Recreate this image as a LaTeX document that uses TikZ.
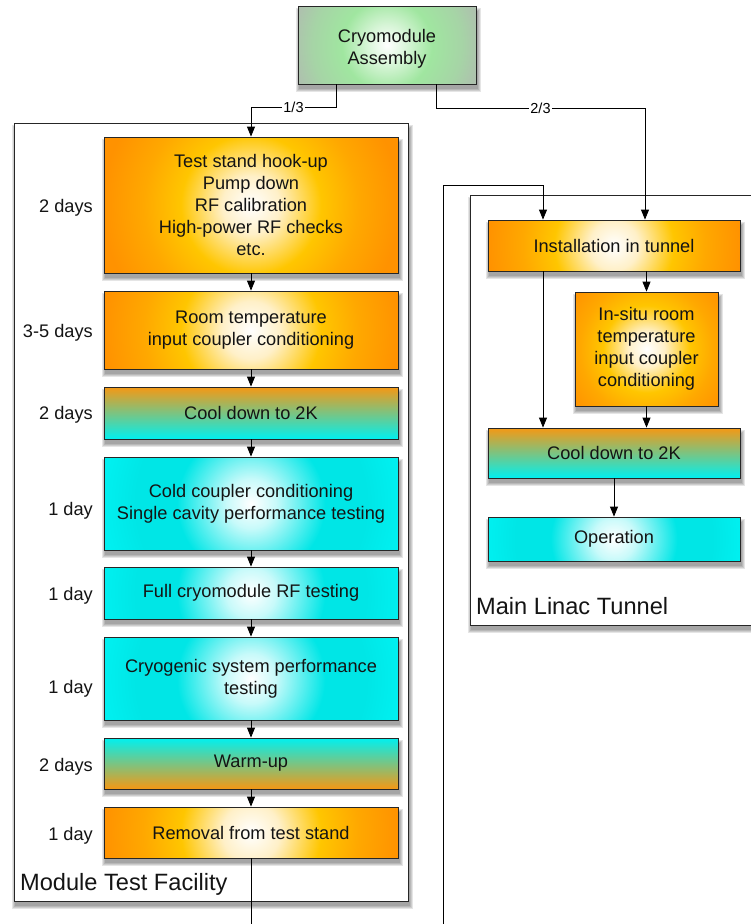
\documentclass[tikz,border=0pt]{standalone}
\usepackage{fontspec}
\setmainfont{Liberation Sans}
\usetikzlibrary{arrows.meta}
\definecolor{oedge}{RGB}{255,146,0}
\definecolor{oring}{RGB}{255,168,0}
\definecolor{omid}{RGB}{255,198,0}
\definecolor{olight}{RGB}{255,240,200}
\definecolor{cyanedge}{RGB}{0,240,240}
\definecolor{cyanmid}{RGB}{0,230,230}
\definecolor{cyanlight}{RGB}{200,250,250}
\definecolor{gedge}{RGB}{174,192,174}
\definecolor{gring}{RGB}{166,212,166}
\definecolor{gmid}{RGB}{160,230,160}
\definecolor{glight}{RGB}{215,245,215}
\definecolor{cooltop}{RGB}{245,152,20}
\definecolor{ink}{RGB}{20,20,20}
\pgfdeclareradialshading{orangeglow}{\pgfpoint{0bp}{0bp}}{color(0bp)=(white); color(3.5bp)=(olight); color(8.5bp)=(omid); color(13bp)=(oring); color(18bp)=(oedge); color(50bp)=(oedge)}
\pgfdeclareradialshading{cyanglow}{\pgfpoint{0bp}{0bp}}{color(0bp)=(white); color(3bp)=(cyanlight); color(9bp)=(cyanmid); color(14bp)=(cyanmid); color(18bp)=(cyanedge); color(50bp)=(cyanedge)}
\pgfdeclareradialshading{greenglow}{\pgfpoint{0bp}{0bp}}{color(0bp)=(white); color(4bp)=(glight); color(9bp)=(gmid); color(15bp)=(gring); color(19bp)=(gedge); color(50bp)=(gedge)}
\pgfdeclarelayer{paper}
\pgfdeclarelayer{back}
\pgfdeclarelayer{shad}
\pgfsetlayers{paper,back,shad,main}
\tikzset{
  box/.style={draw=black!85, line width=0.8pt, inner sep=0pt, align=center,
    text=ink, font=\fontsize{18.2}{22}\selectfont},
  glow/.style n args={3}{box, fill=#3, path picture={\shade[shading=#1]
      (path picture bounding box.center) circle[radius=#2];}},
  orangebox/.style={glow={orangeglow}{#1}{oedge}},
  cyanbox/.style={glow={cyanglow}{#1}{cyanedge}},
  coolbox/.style={box, top color=cooltop, bottom color=cyanedge},
  warmbox/.style={box, top color=cyanedge, bottom color=cooltop},
  leftbox/.style={minimum width=294pt},
  rightbox/.style={minimum width=252pt},
  dur/.style={anchor=east, inner sep=0pt, text=ink, font=\fontsize{18.2}{22}\selectfont},
  conn/.style={draw=black, line width=0.8pt, -{Triangle[length=10pt,width=8pt]}},
  plain/.style={draw=black, line width=0.8pt},
  frac/.style={fill=white, inner sep=1pt, font=\fontsize{14.5}{16}\selectfont},
  container/.style={draw=black!85, line width=0.8pt, fill=white, inner sep=0pt},
  contlabel/.style={anchor=west, inner sep=0pt, text=ink, font=\fontsize{23.6}{26}\selectfont},
  shadowpiece/.style={fill=black, opacity=0.1}
}
\newcommand\castshadow[1]{%
  \foreach \s in {0,1,2,3}{%
    \fill[shadowpiece] ([xshift={1.5pt-\s*1pt}, yshift={-5pt-\s*1pt}]#1.south west)
      rectangle ([xshift={1.5pt+\s*1pt}, yshift={-5pt+\s*1pt}]#1.north east);}}
\begin{document}
\begin{tikzpicture}[x=1pt,y=-1pt]
\useasboundingbox (0,0) rectangle (750,924);
\begin{pgfonlayer}{paper}
\fill[white] (0,0) rectangle (750,924);
\end{pgfonlayer}
% container geometry (faces drawn on the back layer below)
\path (211,512) node[minimum width=394pt, minimum height=778pt, inner sep=0pt] (mtf) {};
\path (622.5,410) node[minimum width=305pt, minimum height=430pt, inner sep=0pt] (mlt) {};
\node[contlabel] (mtflabel) at (20,884) {Module Test Facility};
\node[contlabel] (mltlabel) at (476,606) {Main Linac Tunnel};
% top node
\node[glow={greenglow}{125pt}{gedge}, minimum width=178pt, minimum height=78pt] (cryo) at (387,45) {\rule{0pt}{20pt}Cryomodule\\Assembly};
% left column
\node[orangebox=206pt, leftbox, minimum height=136pt] (b1) at (251,205) {Test stand hook-up\\Pump down\\RF calibration\\High-power RF checks\\etc.};
\node[orangebox=206pt, leftbox, minimum height=78pt] (b2) at (251,330) {Room temperature\\input coupler conditioning};
\node[coolbox, leftbox, minimum height=52pt] (b3) at (251,413) {Cool down to 2K};
\node[cyanbox=206pt, leftbox, minimum height=93pt] (b4) at (251,503.5) {Cold coupler conditioning\\Single cavity performance testing};
\node[cyanbox=206pt, leftbox, minimum height=52pt] (b5) at (251,593) {Full cryomodule RF testing};
\node[cyanbox=206pt, leftbox, minimum height=83pt] (b6) at (251,678.5) {Cryogenic system performance\\testing};
\node[warmbox, leftbox, minimum height=51pt] (b7) at (251,763.5) {Warm-up};
\node[orangebox=206pt, leftbox, minimum height=51pt] (b8) at (251,832.5) {Removal from test stand};
% durations
\node[dur] (d1) at (93,208) {2 days};
\node[dur] (d2) at (93,333) {3-5 days};
\node[dur] (d3) at (93,415) {2 days};
\node[dur] (d4) at (93,511) {1 day};
\node[dur] (d5) at (93,596) {1 day};
\node[dur] (d6) at (93,689) {1 day};
\node[dur] (d7) at (93,767) {2 days};
\node[dur] (d8) at (93,836) {1 day};
% right column
\node[orangebox=176pt, rightbox, minimum height=51pt] (inst) at (614,245.5) {Installation in tunnel};
\node[orangebox=128pt, minimum width=143pt, minimum height=114pt] (insitu) at (646.5,349) {In-situ room\\temperature\\input coupler\\conditioning};
\node[coolbox, rightbox, minimum height=50pt] (coolR) at (614,453) {Cool down to 2K};
\node[cyanbox=176pt, rightbox, minimum height=44pt] (oper) at (614,539) {Operation};
% container faces and shadows
\begin{pgfonlayer}{back}
\castshadow{mtf}
\castshadow{mlt}
\node[container, minimum width=394pt, minimum height=778pt] (mtfface) at (mtf.center) {};
\node[container, minimum width=305pt, minimum height=430pt] (mltface) at (mlt.center) {};
\end{pgfonlayer}
\begin{pgfonlayer}{shad}
\castshadow{cryo}
\foreach \n in {b1,b2,b3,b4,b5,b6,b7,b8,inst,insitu,coolR,oper}{\castshadow{\n}}
\end{pgfonlayer}
% connectors from top
\draw[conn] ([xshift=-51pt]cryo.south) -- ++(0,23) -| node[frac, pos=0.25] {1/3} (b1.north);
\draw[conn] ([xshift=49pt]cryo.south) -- ++(0,24) -| node[frac, pos=0.25] {2/3} ([xshift=31pt]inst.north);
% left chain
\draw[conn] (b1) -- (b2);
\draw[conn] (b2) -- (b3);
\draw[conn] (b3) -- (b4);
\draw[conn] (b4) -- (b5);
\draw[conn] (b5) -- (b6);
\draw[conn] (b6) -- (b7);
\draw[conn] (b7) -- (b8);
\coordinate (mtfout) at (251,924);
\draw[plain] (b8.south) -- (mtfout);
% return to tunnel
\coordinate (retin) at (443,924);
\coordinate (rettop) at (543,185);
\draw[conn] (retin) |- (rettop) -- ([xshift=-71pt]inst.north);
% right chain
\draw[conn] ([xshift=-71pt]inst.south) -- ([xshift=-71pt]coolR.north);
\draw[conn] (inst.south -| insitu.north) -- (insitu.north);
\draw[conn] (insitu.south) -- (coolR.north -| insitu.south);
\draw[conn] (coolR) -- (oper);
\end{tikzpicture}
\end{document}
